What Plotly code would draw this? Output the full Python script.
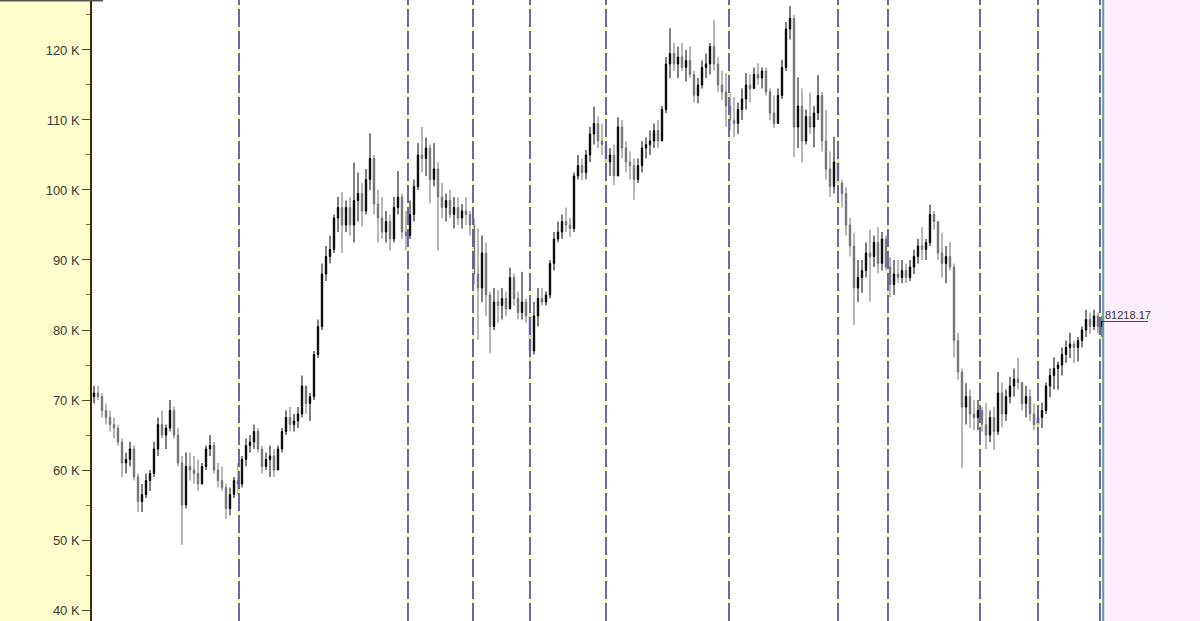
import plotly.graph_objects as go

# ---- data (prices in thousands of USD) ----
first_open = 70.5
highs = [72, 72, 71, 69.5, 68.5, 67.5, 66.5, 64.5, 62.5, 64, 63.5, 59.5, 58, 59.5, 60, 64, 67.5, 68.5, 66.5, 70,
         69, 66, 62, 62.5, 62.5, 62, 61.5, 61, 63.5, 65, 64, 61, 60.5, 58, 57.5, 59, 61, 62, 64.5, 65,
         66.5, 66, 63.5, 62.5, 63.5, 63, 63.5, 66, 68.5, 69, 68, 69, 73.5, 72, 71, 77, 81.5, 89.5, 92, 93.5,
         96.5, 99, 99.7, 98.5, 99, 103.9, 102.5, 101, 103, 108.1, 105, 100, 99, 97, 96.5, 99, 102.7, 99.5, 97, 98.5,
         101.5, 106.7, 109, 107.5, 106.5, 106.7, 104, 101, 99.5, 100, 99, 99, 98, 99, 97, 96, 94.5, 93.5, 92.5, 85.5,
         86, 85.7, 86, 85.5, 88.9, 88, 85.5, 88.3, 84.5, 83.5, 84, 86, 86, 85.5, 90, 94, 95.5, 96.5, 97.5, 96,
         102.5, 105, 104.5, 105.7, 109, 111.9, 110.5, 109.5, 107, 106, 106.5, 110.4, 110, 107, 105.5, 104.5, 104.5, 107, 107.5, 108.5,
         109.5, 110, 112, 119, 123.1, 121, 120.5, 121, 120, 120.5, 117, 116, 118.5, 119.5, 121, 124.3, 119, 117, 116.7, 114,
         113.3, 112.5, 114.5, 116.7, 116.5, 117.5, 118.1, 117.5, 117.5, 114.5, 113.5, 114.5, 118.6, 124, 126.3, 125, 116.1, 114.5, 111.5, 113.9,
         112, 116.4, 114, 111.4, 105.5, 107.6, 105.7, 101.5, 100.4, 96, 93.9, 90, 90, 92.5, 94.3, 93.5, 94.7, 94, 93.5, 90.4,
         90, 90, 90, 89.5, 90, 91.5, 93, 94.7, 93, 97.9, 97, 95.5, 93.9, 92, 92.5, 89.5, 79.6, 74.5, 72.4, 71.5,
         70, 70, 69, 69.6, 68.5, 69, 74, 72.5, 71.5, 73.3, 74.5, 76, 72.4, 72, 71.5, 69.5, 68.5, 69.6, 72.5, 74.5,
         76.1, 75.5, 77.5, 78.5, 79.6, 78.5, 79, 80.5, 82.9, 82.5, 82.9, 82.5, 82]
lows = [69.5, 70, 67.5, 66.5, 65.5, 64.5, 63.5, 59, 59.5, 60.5, 58.5, 54, 54, 56, 57, 59, 62, 64.5, 63, 65.5,
        64.5, 60.5, 49.3, 54.5, 58.5, 58, 57, 58, 60, 62, 59.5, 57.5, 57, 53, 53.5, 56, 56.5, 57.5, 60.5, 62.5,
        63, 62.5, 59.5, 60, 59, 59, 60.5, 62.5, 65, 65.5, 65.5, 66, 67.5, 68, 67, 70, 76, 80, 87, 89.5,
        91, 94, 91, 94, 93.5, 92.5, 95.5, 94.8, 96.5, 100, 96.5, 92.5, 93, 92.5, 91.4, 92.5, 96.5, 93, 91.4, 93,
        95.5, 100, 102.5, 102, 98.1, 100.5, 91.4, 96, 95.5, 96, 94.5, 95, 94.5, 95, 93.5, 86.5, 78.6, 84, 82, 76.7,
        80, 81, 81.5, 82, 84.5, 83.5, 81.5, 81.5, 81, 74.3, 76.5, 80.5, 83.5, 83.5, 84.5, 88.5, 92.5, 93, 94, 93.3,
        94, 101.5, 101.4, 101.5, 104, 106.5, 106, 105, 103, 102, 100.7, 103.5, 104.5, 102.5, 101.5, 98.6, 101, 102.5, 104.5, 105,
        106, 106, 107.5, 111, 116, 117, 116, 117, 115.5, 116, 112.5, 112.4, 114.5, 116, 116.5, 117, 114, 112.9, 109, 108.5,
        107.6, 108, 110, 111.5, 112.5, 114.7, 115, 114.5, 113.5, 110, 108.9, 109.5, 113, 117, 121.5, 104.7, 106, 103.9, 106.5, 108,
        106.1, 110, 105.5, 101.5, 99, 99.5, 99.6, 97.5, 93.5, 90.5, 80.7, 84, 85.3, 87.5, 84, 89, 88.1, 88.5, 88.5, 84.7,
        85, 86.7, 86.7, 86.7, 87, 88, 89.5, 90, 90, 92, 94.3, 90, 87.5, 86.7, 88.5, 76.1, 72.9, 60.3, 66.5, 66,
        65.7, 65.7, 65.5, 63, 64, 62.9, 65, 66.1, 67, 69.5, 70.5, 71.5, 68.5, 67.5, 67, 65.7, 65.7, 66, 68, 70.4,
        71.5, 71.5, 73.5, 75.3, 76, 75.3, 75.5, 77.5, 79, 79.5, 80, 79.5, 79]
closes = [71, 70.5, 68.5, 67.5, 66.5, 66, 64, 61, 61.5, 63, 59, 55.5, 56.5, 58.5, 59.5, 63, 66.5, 65, 66, 68.5,
          65, 61, 55, 60.5, 60, 59.5, 58, 60.5, 63, 63.5, 60, 58.5, 57.5, 54.5, 56.5, 58.5, 58, 61.5, 63.5, 64,
          65.5, 63, 60.5, 61.5, 62, 60, 63, 65.5, 67.5, 66.5, 67, 68, 72, 69.5, 70.5, 76.5, 80.5, 88, 90.5, 91.5,
          96, 97.5, 95, 97.5, 95, 98.5, 99.5, 97, 101.5, 104.5, 98, 96, 94, 95.5, 93, 97.5, 99, 94, 93.5, 96.5,
          100.5, 105, 104.5, 106, 101.5, 103, 99, 97.5, 98.5, 96.5, 97.5, 96, 97, 96.5, 95, 88, 86, 91, 85, 80.5,
          84, 83.5, 84.5, 83, 87.5, 84.5, 82.5, 84, 82, 77, 82, 84.5, 84, 85, 89.5, 93, 94, 95.5, 95, 94.5,
          102, 103.5, 102.5, 105, 108, 109.5, 107, 106.5, 104, 105, 102, 109, 106, 104, 103.5, 101.5, 103.5, 106, 106.5, 107,
          108.5, 107, 111.5, 118, 119.5, 118, 119, 117.5, 118.5, 116.5, 113.5, 115, 117.5, 118, 120.5, 118, 115, 114, 112, 110,
          109.5, 111.5, 113, 115, 114.5, 116.5, 116, 117, 114, 111, 109.5, 113.5, 117.5, 123, 124.5, 109, 112, 107, 110.5, 109,
          111, 113.5, 107, 103, 100.5, 104, 101, 99.5, 95, 92, 86, 87.5, 88.5, 91, 90.5, 92.5, 89.5, 93, 89, 86.5,
          88, 87.5, 88.5, 87.5, 89, 90.5, 92, 91.5, 92.5, 96.5, 95.5, 91, 89.5, 90.5, 89, 78.5, 74, 69, 70.5, 68,
          67.5, 68.5, 66.5, 65, 67.5, 65.5, 71, 68, 70.5, 72, 73, 72.5, 69.5, 70.5, 68, 66.5, 67.5, 68.5, 72, 73.5,
          74.5, 75, 76.5, 77.5, 78, 77.5, 78.5, 80, 81.5, 80.5, 82, 80.5, 81.218]
last_price = 81218.17
event_bars = [36.25, 78.5, 94.75, 109, 128, 158.75, 186, 198.5, 221.5, 236, 251.5]
y_tick_values = [40, 50, 60, 70, 80, 90, 100, 110, 120]
y_tick_labels = ["40 K", "50 K", "60 K", "70 K", "80 K", "90 K", "100 K", "110 K", "120 K"]

opens = [first_open] + closes[:-1]
highs_adj = [max(h, o, c) for h, o, c in zip(highs, opens, closes)]
lows_adj = [min(l, o, c) for l, o, c in zip(lows, opens, closes)]
xs = list(range(len(closes)))

fig = go.Figure()
fig.add_trace(go.Candlestick(
    x=xs, open=opens, high=highs_adj, low=lows_adj, close=closes,
    increasing=dict(line=dict(color="#000000", width=1), fillcolor="#000000"),
    decreasing=dict(line=dict(color="#707070", width=1), fillcolor="#707070"),
    whiskerwidth=0, showlegend=False, hoverinfo="skip",
))

last_x = xs[-1]
x_end = last_x + 24.5
shapes = []
# pink "future" area
shapes.append(dict(type="rect", xref="x", yref="paper", x0=last_x + 0.5, x1=x_end, y0=0, y1=1,
                   fillcolor="#FCEEFC", line=dict(width=0), layer="below"))
# event lines: yellow under blue dashes
for ev in event_bars:
    shapes.append(dict(type="line", xref="x", yref="paper", x0=ev, x1=ev, y0=0, y1=1,
                       line=dict(color="#FAF27A", width=1.5), layer="above"))
    shapes.append(dict(type="line", xref="x", yref="paper", x0=ev, x1=ev, y0=0, y1=1,
                       line=dict(color="#2E2EA8", width=1.4, dash="18px,4px"), layer="above"))
# current bar marker line
shapes.append(dict(type="line", xref="x", yref="paper", x0=last_x + 0.3, x1=last_x + 0.3, y0=0, y1=1,
                   line=dict(color="#5E9EA0", width=2)))
# last price underline
shapes.append(dict(type="line", xref="x", yref="y", x0=last_x, x1=last_x + 11.5,
                   y0=last_price / 1000, y1=last_price / 1000, line=dict(color="#444444", width=1)))
# top border over the axis panel
shapes.append(dict(type="line", xref="paper", yref="paper", x0=-0.083, x1=0.01, y0=0.999, y1=0.999,
                   line=dict(color="#555555", width=2)))

fig.update_layout(
    width=1200, height=621,
    margin=dict(l=92, r=0, t=0, b=0),
    paper_bgcolor="#FFFFCC", plot_bgcolor="#FFFFFF",
    boxgap=0.5,
    font=dict(family="Arial, Liberation Sans, sans-serif", size=12, color="#333333"),
    xaxis=dict(range=[-0.5, x_end], visible=False, rangeslider=dict(visible=False), fixedrange=True),
    yaxis=dict(range=[38.43, 127.14], tickvals=y_tick_values, ticktext=y_tick_labels,
               ticks="outside", ticklen=8, tickcolor="#5A4A2A", tickwidth=1,
               showline=True, linecolor="#3A2A1A", linewidth=1.5, showgrid=False, zeroline=False,
               fixedrange=True,
               minor=dict(dtick=5, tick0=0, ticks="outside", ticklen=4, tickcolor="#8A6A3A", showgrid=False),
               tickfont=dict(size=13, color="#3A3A3A")),
    shapes=shapes,
    annotations=[dict(x=last_x + 0.2, y=last_price / 1000, xref="x", yref="y", text=f"{last_price:.2f}",
                      showarrow=False, xanchor="left", yanchor="bottom", yshift=-2,
                      font=dict(size=11, color="#333333"))],
)

fig.write_html("out.html", config={"displayModeBar": False},
               post_script="document.body.style.margin='0px';document.body.style.overflow='hidden';")
